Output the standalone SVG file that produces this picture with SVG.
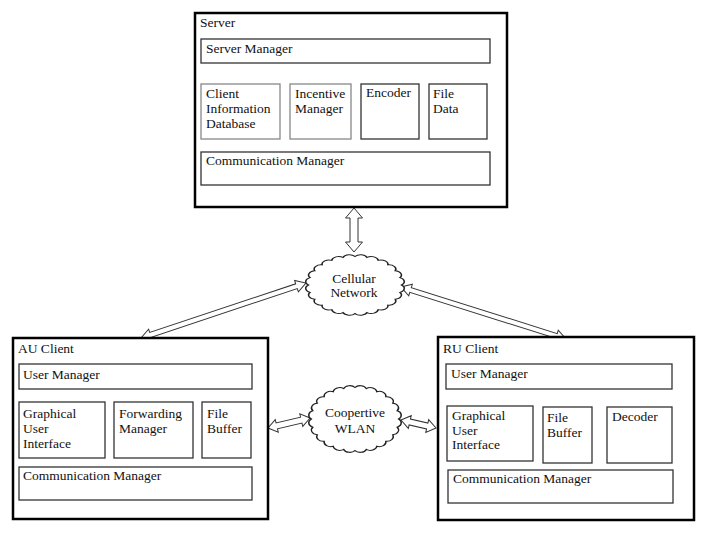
<svg xmlns="http://www.w3.org/2000/svg" width="706" height="537" viewBox="0 0 706 537">
<style>
text{font-family:"Liberation Serif","Times New Roman",serif;font-size:13.5px;fill:#111}
.outer{fill:#fff;stroke:#000;stroke-width:2.5}
.inner{fill:#fff;stroke:#333;stroke-width:1.3}
.light{fill:#fff;stroke:#888;stroke-width:1.3}
.arrow{fill:#fff;stroke:#333;stroke-width:1}
.cloud{fill:#fff;stroke:#222;stroke-width:1}
.c{text-anchor:middle}
</style>
<defs>
<path id="cloudshape" d="M30,0 A4.5,4.5 0 0 1 28.98,7.76 A4.5,4.5 0 0 1 25.98,15 A4.5,4.5 0 0 1 21.21,21.21 A4.5,4.5 0 0 1 15,25.98 A4.5,4.5 0 0 1 7.76,28.98 A4.5,4.5 0 0 1 0,30 A4.5,4.5 0 0 1 -7.76,28.98 A4.5,4.5 0 0 1 -15,25.98 A4.5,4.5 0 0 1 -21.21,21.21 A4.5,4.5 0 0 1 -25.98,15 A4.5,4.5 0 0 1 -28.98,7.76 A4.5,4.5 0 0 1 -30,0 A4.5,4.5 0 0 1 -28.98,-7.76 A4.5,4.5 0 0 1 -25.98,-15 A4.5,4.5 0 0 1 -21.21,-21.21 A4.5,4.5 0 0 1 -15,-25.98 A4.5,4.5 0 0 1 -7.76,-28.98 A4.5,4.5 0 0 1 0,-30 A4.5,4.5 0 0 1 7.76,-28.98 A4.5,4.5 0 0 1 15,-25.98 A4.5,4.5 0 0 1 21.21,-21.21 A4.5,4.5 0 0 1 25.98,-15 A4.5,4.5 0 0 1 28.98,-7.76 A4.5,4.5 0 0 1 30,0 Z"/>
</defs>
<g id="connectors">
<polygon class="arrow" points="354,208 362.5,218 358,218 358,242 362.5,242 354,252 345.5,242 350,242 350,218 345.5,218"/>
<polygon class="arrow" transform="translate(141,338) rotate(-18.43)" points="0,0 10,-6 10,-2.5 163.9,-2.5 163.9,-6 173.9,0 163.9,6 163.9,2.5 10,2.5 10,6"/>
<polygon class="arrow" transform="translate(401,287) rotate(17.49)" points="0,0 10,-6 10,-2.5 163,-2.5 163,-6 173,0 163,6 163,2.5 10,2.5 10,6"/>
<polygon class="arrow" transform="translate(268,428) rotate(-13.4)" points="0,0 9,-6.5 9,-3 34.2,-3 34.2,-6.5 43.2,0 34.2,6.5 34.2,3 9,3 9,6.5"/>
<polygon class="arrow" transform="translate(401,420) rotate(12.9)" points="0,0 9,-6.5 9,-3 26.9,-3 26.9,-6.5 35.9,0 26.9,6.5 26.9,3 9,3 9,6.5"/>
</g>
<g id="server">
<rect class="outer" x="195" y="13" width="312" height="194"/>
<text x="200" y="27">Server</text>
</g>
<g id="server-manager">
<rect class="inner" x="201" y="39" width="289" height="24"/>
<text x="206" y="53">Server Manager</text>
</g>
<g id="client-info-db">
<rect class="light" x="201" y="84" width="79" height="55"/>
<text x="206" y="98">Client</text>
<text x="206" y="113">Information</text>
<text x="206" y="128">Database</text>
</g>
<g id="incentive-manager">
<rect class="light" x="290" y="84" width="61" height="55"/>
<text x="295" y="98">Incentive</text>
<text x="295" y="113">Manager</text>
</g>
<g id="encoder">
<rect class="inner" x="361" y="84" width="58" height="55"/>
<text x="366" y="97">Encoder</text>
</g>
<g id="file-data">
<rect class="inner" x="429" y="84" width="58" height="55"/>
<text x="433" y="98">File</text>
<text x="433" y="113">Data</text>
</g>
<g id="server-comm-manager">
<rect class="inner" x="201" y="152" width="289" height="33"/>
<text x="206" y="165">Communication Manager</text>
</g>
<g id="cellular-network">
<use href="#cloudshape" class="cloud" transform="translate(355,285) scale(1.55,0.95)" vector-effect="non-scaling-stroke" style="vector-effect:non-scaling-stroke"/>
<text class="c" x="354" y="283">Cellular</text>
<text class="c" x="354" y="297">Network</text>
</g>
<g id="cooperative-wlan">
<use href="#cloudshape" class="cloud" transform="translate(355,419) scale(1.455,1.05)"/>
<text class="c" x="355" y="417">Coopertive</text>
<text class="c" x="355" y="433">WLAN</text>
</g>
<g id="au-client">
<rect class="outer" x="13" y="338" width="255" height="181"/>
<text x="18" y="353">AU Client</text>
</g>
<g id="au-user-manager">
<rect class="inner" x="19" y="364" width="233" height="25"/>
<text x="23" y="379">User Manager</text>
</g>
<g id="au-gui">
<rect class="inner" x="19" y="402" width="86" height="56"/>
<text x="23" y="418">Graphical</text>
<text x="23" y="433">User</text>
<text x="23" y="448">Interface</text>
</g>
<g id="au-forwarding-manager">
<rect class="inner" x="114" y="402" width="79" height="56"/>
<text x="119" y="418">Forwarding</text>
<text x="119" y="433">Manager</text>
</g>
<g id="au-file-buffer">
<rect class="inner" x="202" y="402" width="49" height="56"/>
<text x="207" y="418">File</text>
<text x="207" y="433">Buffer</text>
</g>
<g id="au-comm-manager">
<rect class="inner" x="19" y="467" width="233" height="33"/>
<text x="23" y="480">Communication Manager</text>
</g>
<g id="ru-client">
<rect class="outer" x="438" y="337" width="256" height="183"/>
<text x="443" y="353">RU Client</text>
</g>
<g id="ru-user-manager">
<rect class="inner" x="446" y="364" width="226" height="25"/>
<text x="451" y="378">User Manager</text>
</g>
<g id="ru-gui">
<rect class="inner" x="447" y="406" width="86" height="55"/>
<text x="452" y="420">Graphical</text>
<text x="452" y="435">User</text>
<text x="452" y="449">Interface</text>
</g>
<g id="ru-file-buffer">
<rect class="inner" x="543" y="407" width="49" height="56"/>
<text x="547" y="422">File</text>
<text x="547" y="437">Buffer</text>
</g>
<g id="ru-decoder">
<rect class="inner" x="607" y="407" width="65" height="56"/>
<text x="612" y="421">Decoder</text>
</g>
<g id="ru-comm-manager">
<rect class="inner" x="448" y="470" width="225" height="33"/>
<text x="453" y="483">Communication Manager</text>
</g>
</svg>
